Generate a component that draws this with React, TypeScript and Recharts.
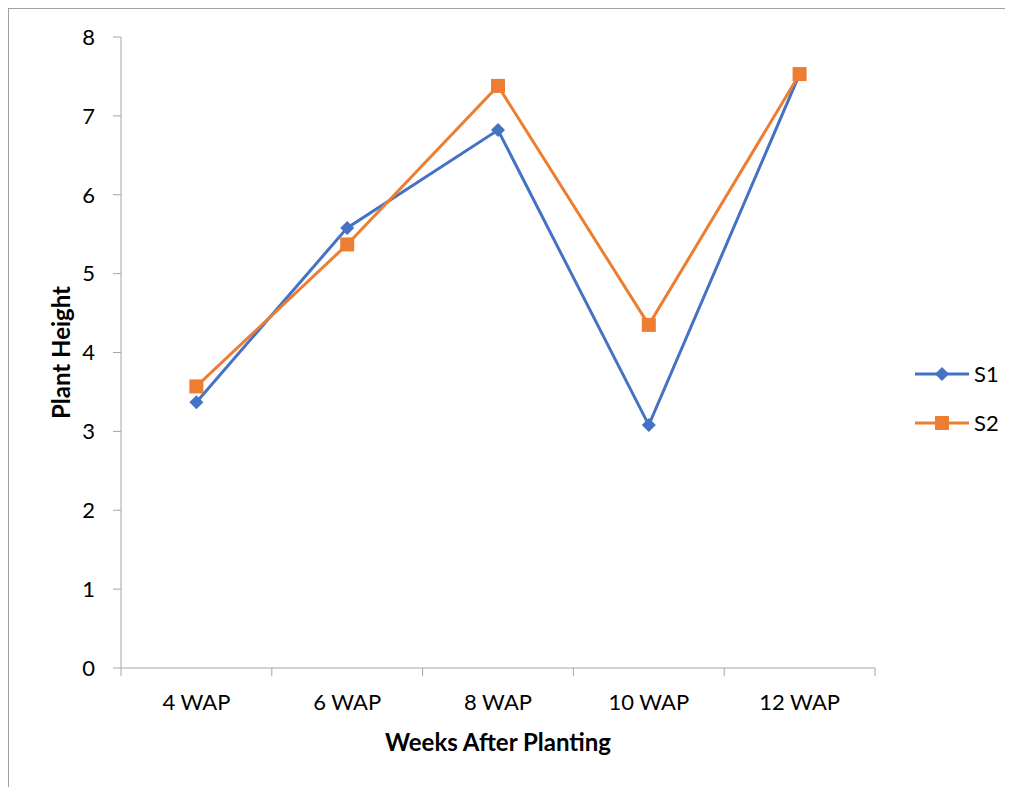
import { LineChart, Line, XAxis, YAxis, Legend, Label } from "recharts";

const categories = ["4 WAP", "6 WAP", "8 WAP", "10 WAP", "12 WAP"];
const s1Values = [3.37, 5.58, 6.82, 3.08, 7.53];
const s2Values = [3.57, 5.37, 7.38, 4.35, 7.53];
const yTicks = [0, 1, 2, 3, 4, 5, 6, 7, 8];

const data = categories.map((name, i) => ({ name, S1: s1Values[i], S2: s2Values[i] }));

const BLUE = "#4472c4";
const ORANGE = "#ed7d31";
const AXIS = "#a6a6a6";
const FONT = "Lato, 'Noto Sans', sans-serif";
const TICK_SIZE = 8;
const X_TICK_MARGIN = 14;

function Diamond({ cx, cy, r = 7, fill }: any) {
  return <path d={`M${cx},${cy - r}L${cx + r},${cy}L${cx},${cy + r}L${cx - r},${cy}Z`} fill={fill} />;
}

function Square({ cx, cy, s = 14, fill }: any) {
  return <rect x={cx - s / 2} y={cy - s / 2} width={s} height={s} fill={fill} />;
}

// category labels sit in the middle of each band, tick marks on the band edges
function CategoryTick(props: any) {
  const { x, y, payload, index, visibleTicksCount } = props;
  const half = payload.offset || 0;
  const axisY = y - X_TICK_MARGIN - TICK_SIZE;
  const last = index === visibleTicksCount - 1;
  return (
    <g>
      <line x1={x - half} x2={x - half} y1={axisY} y2={axisY + TICK_SIZE} stroke={AXIS} />
      {last && <line x1={x + half} x2={x + half} y1={axisY} y2={axisY + TICK_SIZE} stroke={AXIS} />}
      <text x={x} y={y + 20} textAnchor="middle" fill="#000" fontSize={22} fontFamily={FONT}>
        {payload.value}
      </text>
    </g>
  );
}

function LegendContent() {
  const rows = [
    { name: "S1", color: BLUE, marker: "diamond" },
    { name: "S2", color: ORANGE, marker: "square" },
  ];
  return (
    <div style={{ fontFamily: FONT, fontSize: 22, color: "#000" }}>
      {rows.map((r) => (
        <div key={r.name} style={{ height: 49, display: "flex", alignItems: "center" }}>
          <svg width={56} height={16} style={{ marginRight: 3 }}>
            <line x1={0} x2={54} y1={8} y2={8} stroke={r.color} strokeWidth={3} />
            {r.marker === "diamond" ? (
              <Diamond cx={27} cy={8} r={7} fill={r.color} />
            ) : (
              <Square cx={27} cy={8} s={14} fill={r.color} />
            )}
          </svg>
          <span>{r.name}</span>
        </div>
      ))}
    </div>
  );
}

export default function App() {
  return (
    <div
      style={{
        position: "relative",
        width: 1010,
        height: 790,
        borderLeft: "1px solid #a0a0a0",
        borderTop: "1px solid #a0a0a0",
        background: "#fff",
      }}
    >
      <LineChart
        width={1000}
        height={770}
        data={data}
        margin={{ top: 28, right: 134, left: 32, bottom: 21 }}
        style={{ position: "absolute", left: 0, top: 0 }}
      >
        <XAxis
          dataKey="name"
          scale="band"
          height={90}
          stroke={AXIS}
          tickLine={false}
          tickSize={TICK_SIZE}
          tickMargin={X_TICK_MARGIN}
          tick={<CategoryTick />}
          interval={0}
        >
          <Label
            content={({ viewBox }: any) => (
              <text
                x={viewBox.x + viewBox.width / 2}
                y={viewBox.y + 83}
                textAnchor="middle"
                fontFamily={FONT}
                fontWeight="bold"
                fontSize={24}
                fill="#000"
              >
                Weeks After Planting
              </text>
            )}
          />
        </XAxis>
        <YAxis
          width={80}
          domain={[0, 8]}
          ticks={yTicks}
          interval={0}
          stroke={AXIS}
          tickSize={TICK_SIZE}
          tickMargin={18}
          tick={{ fill: "#000", fontSize: 22, fontFamily: FONT }}
        >
          <Label
            content={({ viewBox }: any) => {
              const cx = viewBox.x + 19;
              const cy = viewBox.y + viewBox.height / 2;
              return (
                <text
                  x={cx}
                  y={cy}
                  transform={`rotate(-90 ${cx} ${cy})`}
                  textAnchor="middle"
                  dominantBaseline="central"
                  fontFamily={FONT}
                  fontWeight="bold"
                  fontSize={24}
                  fill="#000"
                >
                  Plant Height
                </text>
              );
            }}
          />
        </YAxis>
        <Legend
          layout="horizontal"
          align="center"
          verticalAlign="middle"
          content={<LegendContent />}
          wrapperStyle={{ left: 906, top: 340, width: 100 }}
        />
        <Line
          type="linear"
          dataKey="S1"
          stroke={BLUE}
          strokeWidth={3}
          isAnimationActive={false}
          dot={(p: any) => <Diamond key={`d1-${p.index}`} cx={p.cx} cy={p.cy} r={7} fill={BLUE} />}
          activeDot={false}
        />
        <Line
          type="linear"
          dataKey="S2"
          stroke={ORANGE}
          strokeWidth={3}
          isAnimationActive={false}
          dot={(p: any) => <Square key={`d2-${p.index}`} cx={p.cx} cy={p.cy} s={14} fill={ORANGE} />}
          activeDot={false}
        />
      </LineChart>
    </div>
  );
}
